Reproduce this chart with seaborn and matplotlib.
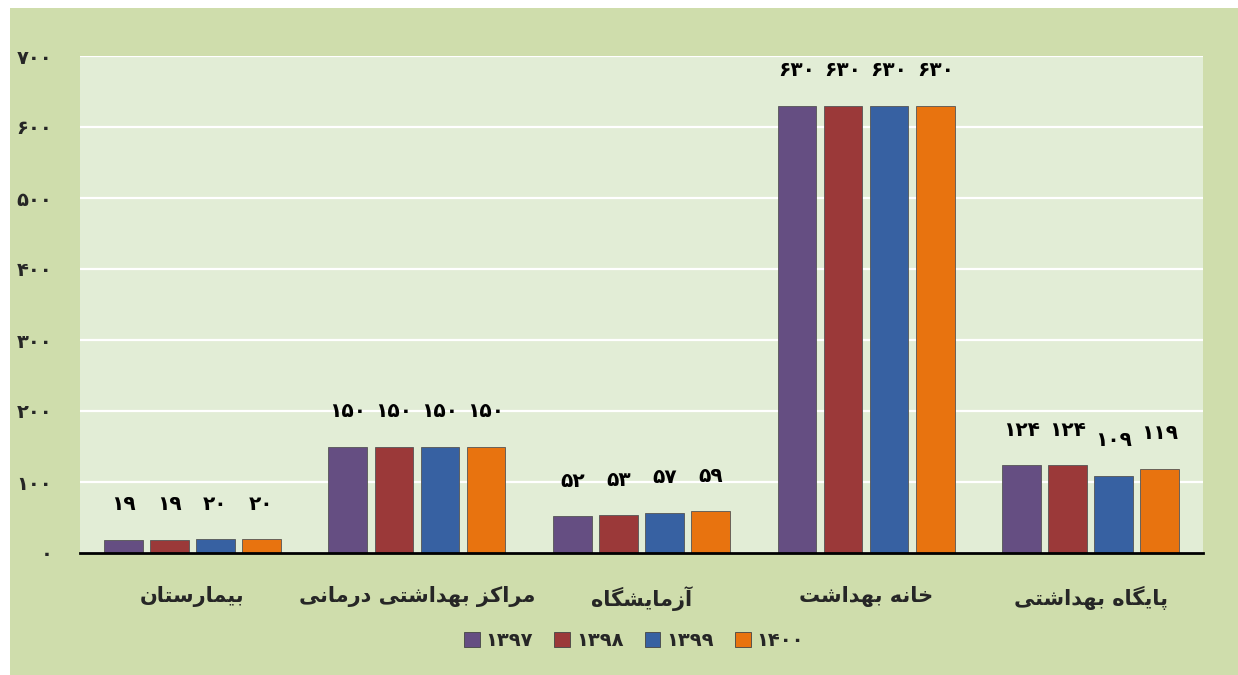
import numpy as np
import pandas as pd
import matplotlib
matplotlib.use("Agg")
import matplotlib.pyplot as plt
from matplotlib import font_manager
from matplotlib.ft2font import FT2Font
from matplotlib.patches import Rectangle
import seaborn as sns

# ---------------- data ----------------
categories = ["بیمارستان", "مراکز بهداشتی درمانی", "آزمایشگاه", "خانه بهداشت", "پایگاه بهداشتی"]
years = ["1397", "1398", "1399", "1400"]
v1397 = [19, 150, 52, 630, 124]
v1398 = [19, 150, 53, 630, 124]
v1399 = [20, 150, 57, 630, 109]
v1400 = [20, 150, 59, 630, 119]
yticks = [0, 100, 200, 300, 400, 500, 600, 700]
colors = ["#654E82", "#9B3939", "#3761A2", "#E8730F"]

# ---------------- Persian shaping helpers ----------------
FORMS = {  # isolated, final, initial, medial
    "ا": ("\uFE8D", "\uFE8E", None, None),
    "آ": ("\uFE81", "\uFE82", None, None),
    "ب": ("\uFE8F", "\uFE90", "\uFE91", "\uFE92"),
    "پ": ("\uFB56", "\uFB57", "\uFB58", "\uFB59"),
    "ت": ("\uFE95", "\uFE96", "\uFE97", "\uFE98"),
    "خ": ("\uFEA5", "\uFEA6", "\uFEA7", "\uFEA8"),
    "د": ("\uFEA9", "\uFEAA", None, None),
    "ر": ("\uFEAD", "\uFEAE", None, None),
    "ز": ("\uFEAF", "\uFEB0", None, None),
    "س": ("\uFEB1", "\uFEB2", "\uFEB3", "\uFEB4"),
    "ش": ("\uFEB5", "\uFEB6", "\uFEB7", "\uFEB8"),
    "ک": ("\uFB8E", "\uFB8F", "\uFB90", "\uFB91"),
    "گ": ("\uFB92", "\uFB93", "\uFB94", "\uFB95"),
    "م": ("\uFEE1", "\uFEE2", "\uFEE3", "\uFEE4"),
    "ن": ("\uFEE5", "\uFEE6", "\uFEE7", "\uFEE8"),
    "ه": ("\uFEE9", "\uFEEA", "\uFEEB", "\uFEEC"),
    "ی": ("\uFBFC", "\uFBFD", "\uFBFE", "\uFBFF"),
}


def dual(ch):
    return ch in FORMS and FORMS[ch][2] is not None


def shape(word):
    out = []
    n = len(word)
    for i, ch in enumerate(word):
        if ch not in FORMS:
            out.append(ch)
            continue
        prev = word[i - 1] if i > 0 else " "
        nxt = word[i + 1] if i < n - 1 else " "
        join_prev = dual(prev)
        join_next = dual(ch) and nxt in FORMS
        iso, fin, ini, med = FORMS[ch]
        if join_prev and join_next:
            out.append(med)
        elif join_prev:
            out.append(fin)
        elif join_next:
            out.append(ini)
        else:
            out.append(iso)
    return "".join(out)


def fa_visual(text):
    return " ".join(shape(w)[::-1] for w in text.split(" ")[::-1])


FA_DIGITS = str.maketrans("0123456789", "۰۱۲۳۴۵۶۷۸۹")


def fa_num(v):
    return str(v).translate(FA_DIGITS)


# ---------------- font choice ----------------
needed = set("".join(fa_visual(c) for c in categories)) | set("۰۱۲۳۴۵۶۷۸۹")
needed.discard(" ")


def covers(prop):
    try:
        path = font_manager.findfont(prop, fallback_to_default=False)
        ft = FT2Font(path)
        return all(ft.get_char_index(ord(c)) != 0 for c in needed)
    except Exception:
        return False


FONT_FAMILY = "DejaVu Sans"
FONT_WEIGHT = "bold"
if not covers(font_manager.FontProperties(family="DejaVu Sans", weight="bold")):
    FONT_WEIGHT = "normal"

# ---------------- dataframe ----------------
rows = []
for y, vals in zip(years, [v1397, v1398, v1399, v1400]):
    for c, v in zip(categories, vals):
        rows.append({"category": fa_visual(c), "year": fa_num(y), "value": v})
df = pd.DataFrame(rows)
cat_order = [fa_visual(c) for c in categories]
hue_order = [fa_num(y) for y in years]

# ---------------- plot ----------------
sns.set_theme(style="white")
plt.rcParams["font.family"] = [FONT_FAMILY]

fig = plt.figure(figsize=(12.38, 6.75), dpi=100, facecolor="white")
fig.patches.append(Rectangle((10 / 1238, -0.01), 1, 1.01 - 8 / 675, transform=fig.transFigure,
                             facecolor="#CFDDAC", edgecolor="none", zorder=-10))
ax = fig.add_axes([80 / 1238, 1 - 553 / 675, 1123 / 1238, (553 - 56) / 675])
ax.set_facecolor("#E2EDD6")

sns.barplot(data=df, x="category", y="value", hue="year", order=cat_order,
            hue_order=hue_order, palette=colors, width=0.82, gap=0.16,
            saturation=1, errorbar=None, ax=ax, zorder=3,
            edgecolor="#555555", linewidth=0.6)

ax.set_ylim(0, 700)
ax.set_xlim(-0.5, 4.5)
ax.set_yticks(yticks)
ax.set_yticklabels([fa_num(t) for t in yticks], fontsize=14, fontweight=FONT_WEIGHT,
                   family=FONT_FAMILY)
ax.tick_params(axis="y", length=0, pad=20)
ax.tick_params(axis="x", length=0, pad=24)
for lbl in ax.get_xticklabels():
    lbl.set_fontsize(15)
    lbl.set_fontweight(FONT_WEIGHT)
    lbl.set_family(FONT_FAMILY)
ax.set_xlabel("")
ax.set_ylabel("")
ax.yaxis.grid(True, color="white", linewidth=1.6, zorder=0)
ax.set_axisbelow(True)
for s in ["top", "right", "left"]:
    ax.spines[s].set_visible(False)
ax.spines["bottom"].set_color("black")
ax.spines["bottom"].set_linewidth(2)
ax.spines["bottom"].set_zorder(5)

for cont in ax.containers:
    for bar in cont:
        h = bar.get_height()
        ax.annotate(fa_num(int(round(h))), (bar.get_x() + bar.get_width() / 2, h),
                    xytext=(0, 25), textcoords="offset points", ha="center", va="center",
                    fontsize=14.5, fontweight=FONT_WEIGHT, family=FONT_FAMILY, color="black")

ax.get_legend().remove()
handles = [Rectangle((0, 0), 1, 1, facecolor=c, edgecolor="#444444", linewidth=0.6) for c in colors]
fig.legend(handles, hue_order, loc="center", bbox_to_anchor=(634 / 1238, 1 - 641 / 675),
           ncol=4, frameon=False, handlelength=0.8, handleheight=0.8, handletextpad=0.3,
           columnspacing=1.1, prop={"size": 14, "weight": FONT_WEIGHT, "family": FONT_FAMILY})

fig.savefig("out.png", dpi=100, facecolor=fig.get_facecolor())
